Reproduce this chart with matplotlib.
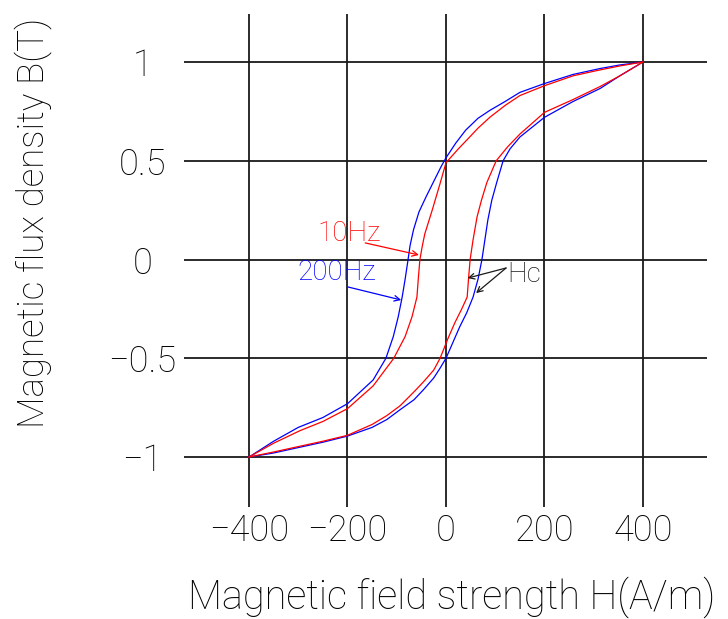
import matplotlib
matplotlib.use("Agg")
import matplotlib.pyplot as plt

# descending branches (from +400 down to -400)
h_blue_down = [400, 353, 313, 258, 200, 150, 120, 89, 65, 40, 20, 0, -10,
               -24, -40, -55, -66, -73, -77, -83, -89, -97, -107, -122, -148,
               -200, -250, -300, -350, -400]
b_blue_down = [1.0, 0.985, 0.967, 0.937, 0.891, 0.846, 0.80, 0.755, 0.715,
               0.655, 0.59, 0.515, 0.47, 0.40, 0.32, 0.24, 0.15, 0.07, 0.0,
               -0.1, -0.19, -0.29, -0.39, -0.5, -0.61, -0.73, -0.80, -0.85,
               -0.92, -1.0]

h_red_down = [400, 353, 313, 258, 200, 150, 120, 89, 65, 48, 25, 0, -12, -28,
              -43, -48, -53, -56, -59, -69, -83, -106, -148, -200, -250, -296,
              -350, -400]
b_red_down = [1.0, 0.98, 0.96, 0.93, 0.88, 0.83, 0.78, 0.72, 0.665, 0.62,
              0.56, 0.49, 0.385, 0.25, 0.13, 0.07, 0.0, -0.09, -0.19, -0.29,
              -0.39, -0.5, -0.64, -0.755, -0.82, -0.866, -0.93, -1.0]

# ascending branches (from -400 up to +400)
h_blue_up = [-400, -351, -296, -250, -200, -150, -120, -93, -65, -46, -25,
             -12, 0, 14, 28, 42, 55, 65, 73, 79, 85, 93, 103, 116, 130, 150,
             200, 258, 313, 353, 400]
b_blue_up = [-1.0, -0.98, -0.95, -0.925, -0.894, -0.85, -0.81, -0.76, -0.71,
             -0.66, -0.60, -0.55, -0.5, -0.42, -0.34, -0.27, -0.19, -0.1, 0.0,
             0.1, 0.2, 0.3, 0.39, 0.5, 0.56, 0.62, 0.72, 0.80, 0.866, 0.93,
             1.0]

h_red_up = [-400, -351, -296, -250, -200, -150, -120, -93, -65, -46, -25,
            -12, 4, 18, 32, 43, 46, 49, 55, 63, 72, 83, 102, 125, 150, 200,
            258, 313, 353, 400]
b_red_up = [-1.0, -0.975, -0.945, -0.92, -0.89, -0.835, -0.79, -0.74, -0.67,
            -0.62, -0.56, -0.5, -0.40, -0.32, -0.25, -0.19, -0.09, 0.0, 0.1,
            0.215, 0.30, 0.39, 0.5, 0.57, 0.635, 0.745, 0.81, 0.876, 0.93, 1.0]

x_ticks = [-400, -200, 0, 200, 400]
y_ticks = [-1, -0.5, 0, 0.5, 1]
y_tick_labels = ['\u22121', '\u22120.5', '0', '0.5', '1']

plt.rcParams['font.family'] = ['Roboto', 'DejaVu Sans']
plt.rcParams['font.weight'] = 'light'
plt.rcParams['axes.labelweight'] = 'light'

fig = plt.figure(figsize=(7.28, 6.19), dpi=100)
ax = fig.add_axes([184 / 728, 1 - 507 / 619, 523 / 728, 493 / 619])

# the loops
ax.plot(h_blue_down, b_blue_down, color='#0000ff', lw=0.9)
ax.plot(h_blue_up, b_blue_up, color='#0000ff', lw=0.9)
ax.plot(h_red_down, b_red_down, color='#ff0000', lw=0.9)
ax.plot(h_red_up, b_red_up, color='#ff0000', lw=0.9)

ax.set_xlim(-532, 530)
ax.set_ylim(-1.253, 1.243)
ax.set_xticks(x_ticks)
ax.set_yticks(y_ticks)
ax.set_yticklabels(y_tick_labels)
ax.grid(True, color='#1a1a1a', lw=1.3)
ax.set_axisbelow(True)
for s in ax.spines.values():
    s.set_visible(False)

ax.tick_params(axis='x', length=0, pad=4, labelsize=26)
ax.tick_params(axis='y', length=0, pad=30, labelsize=26)
plt.setp(ax.get_yticklabels(), ha='center')

ax.set_xlabel('Magnetic field strength H(A/m)', fontsize=28.5, va='center')
ax.xaxis.set_label_coords(0.512, -0.183)
ax.set_ylabel('Magnetic flux density B(T)', fontsize=26.5, va='center')
ax.yaxis.set_label_coords(-0.289, 0.576)

# annotations
arr = dict(arrowstyle='->', lw=0.9, mutation_scale=10, shrinkA=0, shrinkB=0)
ax.text(-262, 0.134, '10Hz', color='#ff0000', fontsize=20, va='center')
ax.annotate('', xy=(-55, 0.023), xytext=(-164, 0.084),
            arrowprops=dict(arr, color='#ff0000'))
ax.text(-302, -0.068, '200Hz', color='#0000ff', fontsize=20, va='center')
ax.annotate('', xy=(-91, -0.205), xytext=(-199, -0.139),
            arrowprops=dict(arr, color='#0000ff'))
ax.text(124, -0.076, 'Hc', color='#1a1a1a', fontsize=20, va='center')
ax.annotate('', xy=(44, -0.094), xytext=(122, -0.043),
            arrowprops=dict(arr, color='#1a1a1a'))
ax.annotate('', xy=(61, -0.17), xytext=(122, -0.043),
            arrowprops=dict(arr, color='#1a1a1a'))

fig.savefig('out.png', dpi=100)
